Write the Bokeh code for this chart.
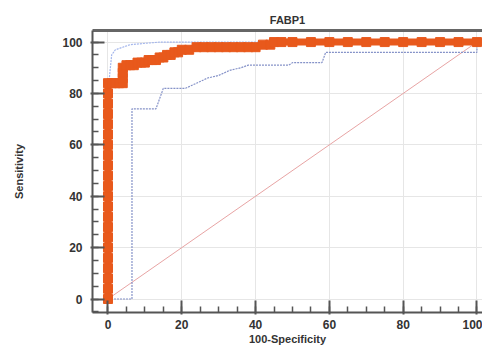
from bokeh.plotting import figure
from bokeh.models import Range1d, LinearAxis, FixedTicker, SingleIntervalTicker
from bokeh.embed import file_html
from bokeh.resources import INLINE

# ROC curve (x = 100-Specificity, y = Sensitivity)
roc_x = [0, 0, 0, 0, 0, 0, 0, 0, 0, 0, 0, 0, 0, 0, 0, 0, 0, 0, 0, 0, 0, 0,
         1, 2, 3, 4, 4, 4, 4, 5, 6, 7, 8, 9, 10, 11, 12, 13, 14, 15, 16, 17, 18, 19, 20,
         22, 24, 26, 28, 30, 32, 34, 36, 38, 40, 42, 44, 45, 47, 50, 55, 60, 65, 70,
         75, 80, 85, 90, 95, 100]
roc_y = [0, 4, 8, 12, 16, 20, 24, 28, 32, 36, 40, 44, 48, 52, 56, 60, 64, 68, 72, 76, 80, 84,
         84, 84, 84, 84, 86, 88, 90, 91, 91, 91, 92, 92, 92, 93, 93, 93, 94, 94, 95, 95, 96, 96, 97,
         97, 98, 98, 98, 98, 98, 98, 98, 98, 98, 99, 99, 100, 100, 100, 100, 100, 100, 100,
         100, 100, 100, 100, 100, 100]

# Upper confidence bound
upper_x = [0, 0, 0.5, 1, 2, 4, 6, 10, 14, 100]
upper_y = [0, 80, 88, 95, 97, 98, 99, 99.5, 100, 100]

# Lower confidence bound
lower_x = [0, 6.5, 6.5, 13, 14, 15, 21, 24, 27, 30, 33, 36, 38, 49, 50, 58, 59, 100, 100]
lower_y = [0, 0, 74, 74, 78, 82, 82, 84, 86, 87, 89, 90, 91, 91, 92, 92, 96, 96, 100]

# Reference diagonal
diag_x = [0, 100]
diag_y = [0, 100]

FONT = "Liberation Sans"
TXT = "#333333"
ORANGE = "#E8591C"

p = figure(width=482, height=347, output_backend="svg", toolbar_location=None,
           x_range=Range1d(-4.2, 101.5), y_range=Range1d(-5.25, 104.5),
           title="FABP1", min_border_left=92, min_border_right=0,
           min_border_top=30, min_border_bottom=29)

p.title.text_font = FONT
p.title.text_font_size = "11px"
p.title.text_font_style = "bold"
p.title.text_color = TXT
p.title.align = "center"
p.title.offset = 6
p.title.standoff = 10

p.outline_line_color = None
p.background_fill_color = "white"
p.border_fill_color = "white"

for ax, lab in ((p.xaxis, "100-Specificity"), (p.yaxis, "Sensitivity")):
    ax.ticker = SingleIntervalTicker(interval=20, num_minor_ticks=4)
    ax.axis_label = lab
    ax.axis_label_text_font = FONT
    ax.axis_label_text_font_size = "11px"
    ax.axis_label_text_font_style = "bold"
    ax.axis_label_text_color = TXT
    ax.major_label_text_font = FONT
    ax.major_label_text_font_size = "12px"
    ax.major_label_text_font_style = "bold"
    ax.major_label_text_color = TXT
    ax.axis_line_color = "#555555"
    ax.axis_line_width = 2
    ax.major_tick_line_color = "#555555"
    ax.major_tick_line_width = 2
    ax.minor_tick_line_color = "#555555"
    ax.minor_tick_line_width = 1.5
    ax.major_tick_in = 12
    ax.major_tick_out = 2
    ax.minor_tick_in = 6
    ax.minor_tick_out = 0

p.yaxis.major_label_standoff = 8
p.yaxis.axis_label_standoff = 34
p.xaxis.major_label_standoff = 5
p.xaxis.axis_label_standoff = 1

top = LinearAxis(ticker=FixedTicker(ticks=[]), major_label_text_font_size="0px",
                 axis_line_color="#666666", axis_line_width=3,
                 major_tick_line_color=None, minor_tick_line_color=None)
p.add_layout(top, "above")

p.xgrid.ticker = SingleIntervalTicker(interval=20)
p.ygrid.ticker = SingleIntervalTicker(interval=20)
p.grid.grid_line_color = "#e6e6e6"
p.grid.grid_line_width = 1

p.line(diag_x, diag_y, line_color="#e8a4a4", line_width=1)
p.line(lower_x, lower_y, line_color="#8592c8", line_width=1.2, line_dash="2 1")
p.line(upper_x, upper_y, line_color="#a4b6ec", line_width=1.2, line_dash="2 1")
p.line(roc_x, roc_y, line_color=ORANGE, line_width=7)
p.scatter(roc_x, roc_y, marker="square", size=9, fill_color=ORANGE, line_color=ORANGE)

open("out.html", "w").write(file_html(p, INLINE))
